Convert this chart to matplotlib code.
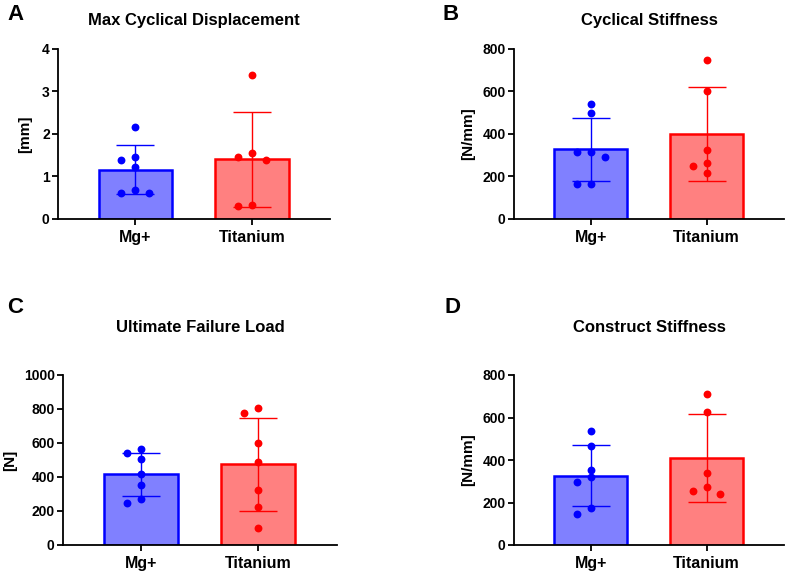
import numpy as np
import matplotlib
matplotlib.use("Agg")
import matplotlib.pyplot as plt

plt.rcParams['font.family'] = ['Liberation Sans', 'DejaVu Sans']
plt.rcParams['font.weight'] = 'bold'
plt.rcParams['axes.labelweight'] = 'bold'

groups = ["Mg+", "Titanium"]

# individual specimens
disp_mg = [2.16, 1.47, 1.38, 1.23, 0.68, 0.62, 0.60]
disp_ti = [3.38, 1.55, 1.45, 1.39, 0.33, 0.31]
cyc_mg = [540, 500, 317, 317, 290, 163, 163]
cyc_ti = [748, 604, 325, 262, 251, 216]
load_mg = [563, 543, 506, 420, 353, 271, 249]
load_ti = [806, 775, 602, 488, 324, 225, 98]
cons_mg = [538, 464, 351, 318, 298, 174, 146]
cons_ti = [712, 627, 339, 271, 256, 240]

fills = ["#8080ff", "#ff8080"]
edges = ["#0000ff", "#ff0000"]

W, H = 789, 575


def swarm(ax, x0, vals, step=0.12, diam=7.0):
    """simple beeswarm: put each point at the nearest free column"""
    placed = []
    xs = []
    for v in vals:
        py = ax.transData.transform((0, v))[1]
        k = 0
        while True:
            off = ((k + 1) // 2) * (-1 if k % 2 else 1)
            if not any(o == off and abs(p - py) < diam for o, p in placed):
                break
            k += 1
        placed.append((off, py))
        xs.append(x0 + off * step)
    return xs


def panel(rect, letter, letter_xy, title, title_y, ylabel, ylab_x, ymax, ystep, data):
    l, t, r, b = rect
    ax = fig.add_axes([l / W, 1 - b / H, (r - l) / W, (b - t) / H])
    ax.set_xlim(-0.665, 1.67)
    ax.set_ylim(0, ymax)
    ax.set_yticks(np.arange(0, ymax + ystep / 2, ystep))
    ax.set_xticks([0, 1], groups)

    for i, vals in enumerate(data):
        vals = np.array(vals, dtype=float)
        m, sd = vals.mean(), vals.std(ddof=1)
        ax.bar(i, m, width=0.63, color=fills[i], edgecolor=edges[i],
               linewidth=1.8, zorder=2)
        ax.errorbar(i, m, yerr=sd, color=edges[i], lw=1, capsize=14,
                    capthick=1, zorder=3)
        ax.scatter(swarm(ax, i, vals), vals, s=32, color=edges[i],
                   linewidths=0, zorder=4)

    for s in ["top", "right"]:
        ax.spines[s].set_visible(False)
    for s in ["left", "bottom"]:
        ax.spines[s].set_linewidth(1.3)
    ax.tick_params(width=1.3, length=4, labelsize=10, pad=2)
    ax.tick_params(axis="x", labelsize=11.5, pad=4)
    ax.set_ylabel(ylabel, fontsize=11, va="center")
    ax.yaxis.set_label_coords((ylab_x - l) / (r - l), 0.5)

    fig.text((l + r) / 2 / W, 1 - title_y / H, title, ha="center", va="center",
             fontsize=12, weight="bold")
    fig.text(letter_xy[0] / W, 1 - letter_xy[1] / H, letter, ha="center",
             va="center", fontsize=16, weight="bold")
    return ax


fig = plt.figure(figsize=(W / 100, H / 100), dpi=100)

panel((58, 49, 330, 219), "A", (15, 14), "Max Cyclical Displacement", 21,
      "[mm]", 25, 4, 1, [disp_mg, disp_ti])
panel((514, 49, 784, 219), "B", (451, 14), "Cyclical Stiffness", 21,
      "[N/mm]", 468, 800, 200, [cyc_mg, cyc_ti])
panel((63, 375, 337, 545), "C", (15, 308), "Ultimate Failure Load", 327,
      "[N]", 10, 1000, 200, [load_mg, load_ti])
panel((514, 375, 784, 545), "D", (452, 308), "Construct Stiffness", 327,
      "[N/mm]", 468, 800, 200, [cons_mg, cons_ti])

fig.savefig("out.png", dpi=100)
